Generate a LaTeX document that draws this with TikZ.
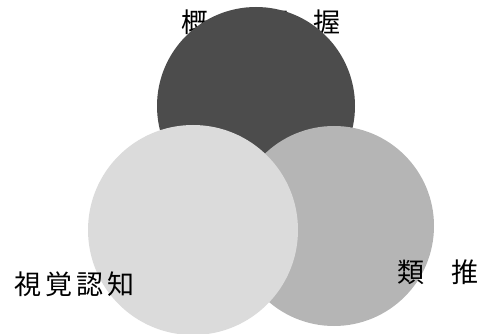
\documentclass[tikz,border=0pt]{standalone}
\usepackage{fontspec}
\newfontfamily\jp{Noto Sans CJK JP}
\definecolor{darkc}{gray}{0.30}
\definecolor{midc}{gray}{0.71}
\definecolor{lightc}{gray}{0.86}
\tikzset{
  lbl/.style={inner sep=0pt, font=\jp\fontsize{27}{30}\selectfont, text=black}
}
\begin{document}
\begin{tikzpicture}[x=1pt,y=-1pt]
\useasboundingbox (0,0) rectangle (488,334);
\node[lbl] (top) at (261,22) {概\hspace{17pt}念\hspace{10pt}把\hspace{24pt}握};
\fill[darkc] (256,106) circle (99);
\fill[midc] (334,226) circle (100);
\fill[lightc] (193,230) circle (105);
\node[lbl] (left) at (75,284) {視\hspace{4pt}覚\hspace{4pt}認\hspace{4pt}知};
\node[lbl] (right) at (438,272) {類\hspace{27pt}推};
\end{tikzpicture}
\end{document}
